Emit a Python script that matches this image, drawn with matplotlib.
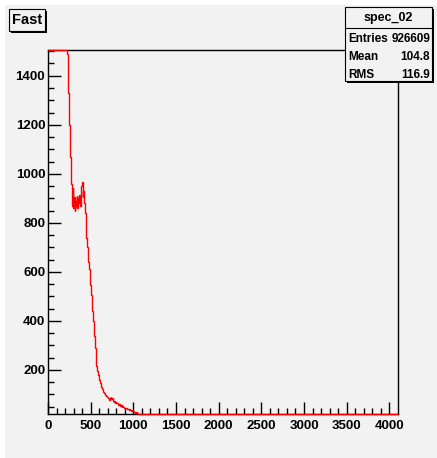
import numpy as np
import matplotlib
matplotlib.use("Agg")
import matplotlib.pyplot as plt
from matplotlib.patches import Rectangle
from matplotlib.ticker import MultipleLocator

plt.rcParams['font.family'] = ['Liberation Sans', 'DejaVu Sans']
plt.rcParams['font.weight'] = 'bold'

# histogram "spec_02", bins of 8 channels from 0 to 1200, then one wide tail bin to 4096
bin_width = 8
counts = [
    5200, 6100, 6400, 6300, 6000, 5700, 5400, 5100, 4800, 4500,
    4200, 3900, 3700, 3500, 3300, 3100, 2900, 2750, 2600, 2450,
    2300, 2150, 2000, 1900, 1800, 1700, 1620, 1560, 1490, 1430,
    1330, 1200, 1070, 1010, 960, 870, 940, 860, 905, 850,
    890, 870, 910, 860, 900, 880, 915, 870, 900, 950,
    965, 905, 930, 880, 840, 800, 740, 700, 670, 640,
    610, 590, 545, 505, 465, 440, 400, 370, 340, 290,
    235, 215, 195, 180, 170, 158, 148, 140, 130, 124,
    115, 110, 104, 100, 96, 93, 88, 90, 84, 80,
    78, 84, 90, 80, 86, 74, 70, 72, 66, 68,
    63, 64, 60, 58, 60, 55, 54, 56, 50, 52,
    48, 50, 45, 46, 43, 44, 40, 42, 38, 40,
    36, 38, 34, 35, 31, 33, 28, 30, 26, 27,
    24, 23, 21, 22, 19, 18, 17, 16, 15, 14,
    14, 13, 12, 12, 11, 11, 10, 10, 9, 9,
]
tail_end = 4096
tail_count = 3

hist_name = "spec_02"
title = "Fast"
stats_labels = ["Entries", "Mean", "RMS"]
stats_values = ["926609", "104.8", "116.9"]

x_range = (0, 4096)
y_range = (20, 1505)

W, H = 437, 458
bg = '#f2f2f2'


def fx(x):
    return x / W


def fy(y):
    return 1 - y / H


fig = plt.figure(figsize=(W / 100, H / 100), dpi=100, facecolor='white')
fig.patches.append(Rectangle((fx(5), 0), 1 - fx(5), fy(5), transform=fig.transFigure,
                             facecolor=bg, edgecolor='none', zorder=-10))

ax = fig.add_axes([fx(48), fy(414), fx(397.5) - fx(48), fy(50) - fy(414)])
ax.set_facecolor(bg)

edges = list(np.arange(len(counts) + 1) * bin_width) + [tail_end]
vals = np.clip(np.array(counts + [tail_count], dtype=float), y_range[0], y_range[1])
ax.stairs(vals, edges, baseline=None, color='red', lw=1.0, clip_on=False, zorder=3)

ax.set_xlim(*x_range)
ax.set_ylim(*y_range)
ax.set_xticks(range(0, 4001, 500))
ax.xaxis.set_minor_locator(MultipleLocator(100))
ax.set_yticks(range(200, 1401, 200))
ax.yaxis.set_minor_locator(MultipleLocator(50))
ax.tick_params(which='both', direction='in', top=False, right=False, width=1.0, colors='black')
ax.tick_params(which='major', length=9, labelsize=9.5)
ax.tick_params(which='minor', length=4.5)
ax.tick_params(axis='x', pad=4)
ax.tick_params(axis='y', pad=2)
for lab in ax.get_xticklabels() + ax.get_yticklabels():
    lab.set_fontweight('bold')
for s in ax.spines.values():
    s.set_linewidth(1.0)
    s.set_color('black')


def box(x0, y0, x1, y1):
    fig.patches.append(Rectangle((fx(x0 + 2), fy(y1 + 2)), fx(x1) - fx(x0), fy(y0) - fy(y1),
                                 transform=fig.transFigure, facecolor='black',
                                 edgecolor='none', zorder=5))
    fig.patches.append(Rectangle((fx(x0), fy(y1)), fx(x1) - fx(x0), fy(y0) - fy(y1),
                                 transform=fig.transFigure, facecolor=bg,
                                 edgecolor='black', lw=0.8, zorder=6))


# title box
box(9, 9, 45, 31)
fig.text(fx(27), fy(20.5), title, ha='center', va='center', fontsize=10.5,
         fontweight='bold', zorder=7)

# stats box
box(345, 7, 432, 81)
fig.add_artist(plt.Line2D([fx(345), fx(432)], [fy(28), fy(28)], transform=fig.transFigure,
                          color='black', lw=0.8, zorder=7))
fig.text(fx(388.5), fy(17.5), hist_name, ha='center', va='center', fontsize=9,
         fontweight='bold', zorder=7)
row_y = [38.5, 56.5, 74.5]
for lab, val, yy in zip(stats_labels, stats_values, row_y):
    fig.text(fx(348), fy(yy), lab, ha='left', va='center', fontsize=8.5,
             fontweight='bold', zorder=7)
    fig.text(fx(430), fy(yy), val, ha='right', va='center', fontsize=8.5,
             fontweight='bold', zorder=7)

fig.savefig('out.png', dpi=100, facecolor=fig.get_facecolor())
